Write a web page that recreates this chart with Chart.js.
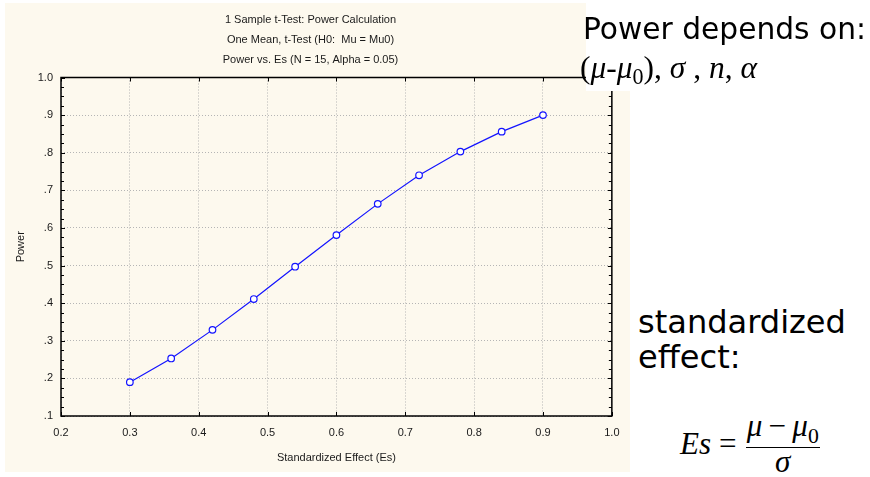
<!DOCTYPE html>
<html>
<head>
<meta charset="utf-8">
<script src="https://cdn.jsdelivr.net/npm/chart.js@4.4.1/dist/chart.umd.min.js"></script>
<style>
  html, body { margin: 0; padding: 0; background: #fff; }
  body { width: 870px; height: 477px; position: relative; overflow: hidden; }
  #panel { position: absolute; left: 5px; top: 3px; width: 625px; height: 469px; background: #fdf9ee; }
  #panel canvas { display: block; }
  #cover { position: absolute; left: 586px; top: 0; width: 284px; height: 91px; background: #fff; }
  .note { position: absolute; white-space: nowrap; color: #000; line-height: 1; transform: translateY(-50%); }
  .hand { font-family: "Comic Sans MS", "DejaVu Sans", sans-serif; font-size: 26px; }
  .math { font-family: "Times New Roman", "Liberation Serif", serif; }
  .math i { font-style: italic; }
  .math sub { font-size: 0.7em; vertical-align: -0.3em; font-style: normal; }
  #formula { position: absolute; left: 680px; top: 405px; font-size: 30px; line-height: 0.9; display: flex; align-items: center; white-space: nowrap; }
  .frac { display: inline-flex; flex-direction: column; align-items: center; margin-left: 3px; }
  .frac .num { border-bottom: 1.5px solid #000; padding: 0 1px 1px 1px; }
  .frac .den { padding-top: 0; }
</style>
</head>
<body>
<div id="panel"><canvas id="chart" width="625" height="469"></canvas></div>
<div id="cover"></div>
<div class="note hand" id="depends" style="left:583px; top:29px;">Power depends on:</div>
<div class="note math" id="params" style="left:580px; top:70px; font-size:22px;">(<i>μ</i>-<i>μ</i><sub>0</sub>), <i>σ</i> , <i>n</i>, <i>α</i></div>
<div class="note hand" id="std" style="left:638px; top:322px;">standardized</div>
<div class="note hand" id="eff" style="left:638px; top:357px;">effect:</div>
<div id="formula" class="math">
  <i>Es</i>&nbsp;=&thinsp;<span class="frac"><span class="num"><i>μ</i>&thinsp;−&thinsp;<i>μ</i><sub>0</sub></span><span class="den"><i>σ</i></span></span>
</div>
<script>
const effectSizes = [0.30, 0.36, 0.42, 0.48, 0.54, 0.60, 0.66, 0.72, 0.78, 0.84, 0.90];
const powerValues = [0.190, 0.253, 0.329, 0.411, 0.497, 0.581, 0.664, 0.740, 0.803, 0.856, 0.900];
const titleLines = [
  '1 Sample t-Test: Power Calculation',
  'One Mean, t-Test (H0:  Mu = Mu0)',
  'Power vs. Es (N = 15, Alpha = 0.05)'
];
const xAxisTitle = 'Standardized Effect (Es)';
const yAxisTitle = 'Power';

// hand lettered notes: size them to the widths they take in the slide
function fitWidth(el, width) {
  const w = el.getBoundingClientRect().width;
  const size = parseFloat(getComputedStyle(el).fontSize) * width / w;
  el.style.fontSize = size + 'px';
  return size;
}
fitWidth(document.getElementById('depends'), 283);
fitWidth(document.getElementById('params'), 177);
document.getElementById('eff').style.fontSize = fitWidth(document.getElementById('std'), 208) + 'px';
const formula = document.getElementById('formula');
fitWidth(formula, 140);
formula.style.top = (444 - formula.getBoundingClientRect().height / 2) + 'px';

// box round the plot, with inward ticks like the statistics package draws
const framePlugin = {
  id: 'frame',
  afterDraw(chart) {
    const { ctx, chartArea: a, scales: { x, y } } = chart;
    ctx.save();
    ctx.strokeStyle = '#000';
    ctx.lineWidth = 1.5;
    ctx.strokeRect(a.left, a.top, a.right - a.left, a.bottom - a.top);
    ctx.lineWidth = 1;
    ctx.beginPath();
    for (const t of x.ticks) {
      const px = Math.round(x.getPixelForValue(t.value)) + 0.5;
      ctx.moveTo(px, a.top); ctx.lineTo(px, a.top + 4);
      ctx.moveTo(px, a.bottom); ctx.lineTo(px, a.bottom - 4);
    }
    for (let k = 0; k <= 36; k++) {
      const py = Math.round(y.getPixelForValue(0.1 + k * 0.025)) + 0.5;
      const len = k % 4 === 0 ? 4 : 3;
      ctx.moveTo(a.left, py); ctx.lineTo(a.left + len, py);
      ctx.moveTo(a.right, py); ctx.lineTo(a.right - len, py);
    }
    ctx.stroke();
    ctx.restore();
  }
};

Chart.defaults.font.family = '"Liberation Sans", Arial, sans-serif';
Chart.defaults.font.size = 11;
Chart.defaults.color = '#1a1a1a';

new Chart(document.getElementById('chart'), {
  type: 'line',
  data: {
    datasets: [{
      data: effectSizes.map((e, i) => ({ x: e, y: powerValues[i] })),
      borderColor: '#1414ff',
      borderWidth: 1.2,
      pointRadius: 3.3,
      pointBorderWidth: 1.2,
      pointBackgroundColor: '#fff',
      pointBorderColor: '#1414ff',
      tension: 0
    }]
  },
  options: {
    responsive: false,
    animation: false,
    devicePixelRatio: 1,
    layout: { padding: { left: 0, right: 14, top: 0, bottom: 0 } },
    plugins: {
      legend: { display: false },
      tooltip: { enabled: false },
      title: {
        display: true,
        text: titleLines,
        color: '#1a1a1a',
        font: { size: 11, weight: 'normal', lineHeight: 20 / 11 },
        padding: { top: 7, bottom: 7.5 }
      }
    },
    scales: {
      x: {
        type: 'linear',
        min: 0.2,
        max: 1.0,
        ticks: { stepSize: 0.1, padding: 10.5, callback: v => v.toFixed(1) },
        grid: { color: '#b5b5b5', drawTicks: false },
        border: { display: false, dash: [1, 2] },
        title: { display: true, text: xAxisTitle, padding: { top: 0, bottom: 7 } },
        afterFit: s => { s.height = 56; }
      },
      y: {
        min: 0.1,
        max: 1.0,
        ticks: { stepSize: 0.1, padding: 8, callback: v => v >= 0.999 ? '1.0' : v.toFixed(1).replace(/^0/, '') },
        grid: { color: '#b5b5b5', drawTicks: false },
        border: { display: false, dash: [1, 2] },
        title: { display: true, text: yAxisTitle, padding: { top: 9, bottom: 0 } },
        afterFit: s => { s.width = 56; }
      }
    }
  },
  plugins: [framePlugin]
});
</script>
</body>
</html>
